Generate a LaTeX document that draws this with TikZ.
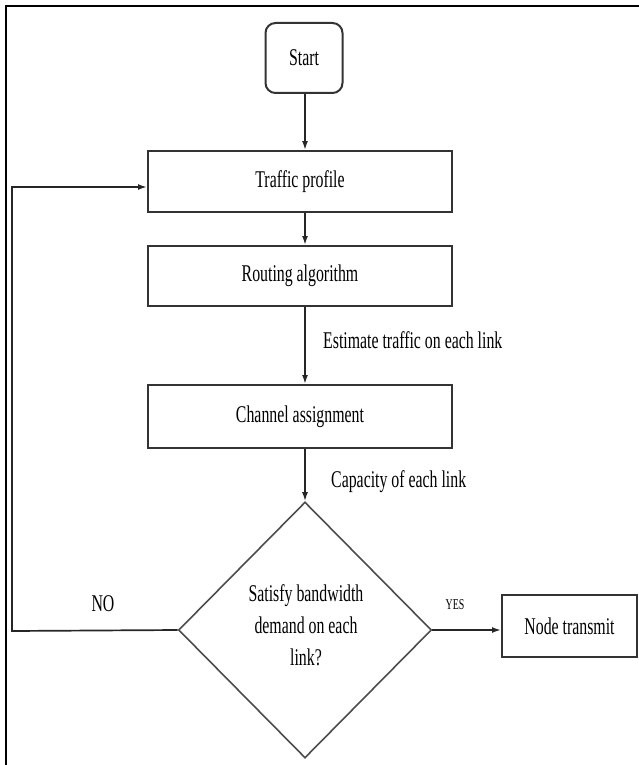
\documentclass[tikz,border=0pt]{standalone}
\usepackage{fontspec}
\setmainfont{Liberation Serif}[FakeStretch=0.66]
\usetikzlibrary{arrows.meta,shapes.geometric}
\begin{document}
\begin{tikzpicture}[x=1pt,y=-1pt,
  box/.style={draw=black!80, line width=2pt, minimum width=304pt, minimum height=61pt, inner sep=0pt, font=\fontsize{24}{28}\selectfont},
  startbox/.style={box, rounded corners=10pt, minimum width=77pt, minimum height=70pt},
  decision/.style={diamond, draw=black!70, line width=1.6pt, minimum width=253pt, minimum height=256pt, inner sep=0pt},
  lbl/.style={inner sep=0pt, font=\fontsize{24}{32}\selectfont},
  small/.style={inner sep=0pt, font=\fontsize{15}{18}\selectfont},
  arr/.style={-{Latex[length=9pt,width=6pt]}, line width=1.7pt, draw=black!85},
  frameline/.style={line width=2.5pt, draw=black}]
\useasboundingbox (0,0) rectangle (638,765);
\draw[frameline] (6,766) -- (6,6) -- (639,6);

\node[startbox] (start) at (304,58) {\raisebox{-4pt}{Start}};
\node[box] (traffic) at (300,181.5) {Traffic profile};
\node[box, minimum height=60pt] (routing) at (300,276) {Routing algorithm};
\node[box, minimum height=63pt] (channel) at (300,416.5) {Channel assignment};
\node[decision] (dec) at (305,630) {};
\node[lbl, align=center] (dectext) at (306,625) {Satisfy bandwidth\\demand on each\\link?};
\node[box, minimum width=135pt, minimum height=62pt] (nt) at (569.5,626) {Node transmit};

\node[lbl, anchor=west] (est) at (323,340) {Estimate traffic on each link};
\node[lbl, anchor=west] (cap) at (331,482) {Capacity of each link};
\node[lbl] (no) at (103,604) {NO};
\node[small] (yes) at (455,605) {YES};

\coordinate (loopB) at (12,631);
\coordinate (loopT) at (12,187);

\draw[arr] (start.south -| dec.north) -- (traffic.north -| dec.north);
\draw[arr] (traffic.south -| dec.north) -- (routing.north -| dec.north);
\draw[arr] (routing.south -| dec.north) -- (channel.north -| dec.north);
\draw[arr] (channel.south -| dec.north) -- (dec.north);
\draw[arr] (dec.east) -- (dec.east -| nt.west);
\draw[arr] (dec.west) -- (loopB) -- (loopT) -- (loopT -| traffic.west);
\end{tikzpicture}
\end{document}
